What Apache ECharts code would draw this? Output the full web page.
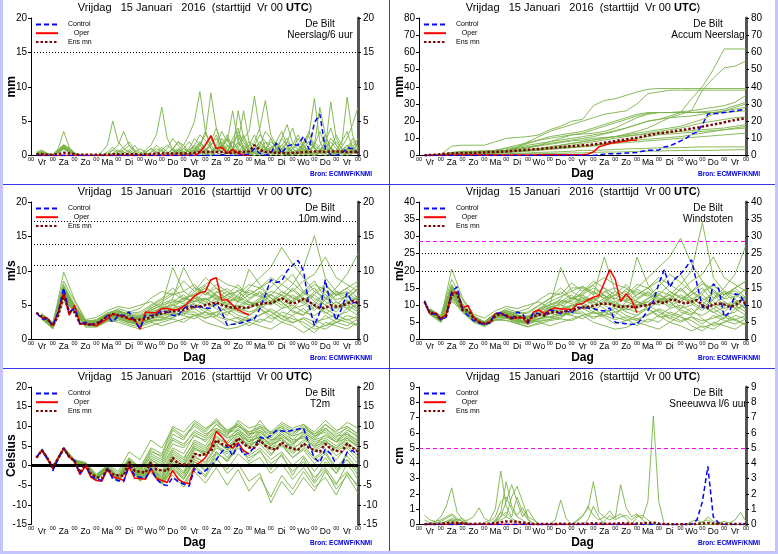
<!DOCTYPE html>
<html>
<head>
<meta charset="utf-8">
<script src="https://cdn.jsdelivr.net/npm/echarts@6/dist/echarts.min.js"></script>
<style>
  html, body { margin: 0; padding: 0; background: #fff; }
  #chart { width: 778px; height: 554px; }
</style>
</head>
<body>
<div id="chart"></div>
<script>
// dagen onder de x-as (label op 12 UTC van elke dag)
const dayLabels = ['Vr', 'Za', 'Zo', 'Ma', 'Di', 'Wo', 'Do', 'Vr', 'Za', 'Zo', 'Ma', 'Di', 'Wo', 'Do', 'Vr'];

// ---- Neerslag / 6 uur (6-uurs waarden vanaf +6h) ----
const p6Control = [0,0,0,0, 0,0,0,0, 0,0,0,0, 0,0,0,0, 0,0,0,0, 0,0,0,0, 0,0,0,0, 0,0,0,0, 0,0,0.1,0, 0,0,0.1,0.2, 1.0,0.3,0,0.3, 1.8,0.3,1.4,1.6, 1.5,2.8,0.9,4.8, 6.0,1.0,0.1,0, 0.3,1.1,1.0,0.4];
const p6Oper = [0,0,0,0, 0,0,0,0, 0,0,0,0, 0,0,0,0, 0,0,0,0, 0,0,0,0, 0,0,0,0, 0,0,0.5,1.5, 2.9,1.0,1.2,0.3, 0.9,0.3,0.1,0];
const p6Mean = [0.2,0.2,0.1,0.1, 0.2,0.4,0.3,0.2, 0.1,0.1,0.1,0.1, 0.1,0.1,0.2,0.2, 0.2,0.2,0.2,0.1, 0.2,0.2,0.3,0.3, 0.3,0.3,0.3,0.3, 0.3,0.4,0.5,0.5, 0.5,0.5,0.5,0.4, 0.4,0.5,0.5,0.6, 1.5,0.8,0.5,0.5, 0.4,0.4,0.3,0.4, 0.4,0.5,0.5,0.6, 0.6,0.5,0.6,0.6, 0.6,0.5,0.5,0.5];
const p6Members = [
  [0.4,0.6,0.3,0.1, 1.0,3.5,1.2,0.2, 0,0,0,0, 0,0,0.3,0.8, 0.5,0.2,0,0, 0,0.4,1.0,0.6, 0.3,0.8,2.0,1.0, 0.5,1.5,3.0,2.2, 1.0,0.5,2.5,1.5, 0.5,1.0,0.3,0, 0.8,2.0,1.2,0.5, 0,0.5,1.0,0.4, 0.2,1.5,2.8,1.0, 0.5,0.3,1.2,2.0, 1.0,0.4,0.8,1.5],
  [0.2,0.3,0.1,0, 0.6,1.4,0.8,0.3, 0,0,0,0, 0.5,1.5,5.0,2.0, 1.0,0.5,0.2,0, 0,0,0.5,1.2, 0.5,0.2,0.8,0.4, 0,0.8,1.5,0.6, 2.0,4.0,1.5,0.8, 0.3,0,0.5,1.5, 3.0,1.2,0.5,0, 0.5,2.5,4.5,1.8, 0.8,0.3,0,0.5, 1.5,3.0,1.0,0.3, 0.5,1.0,2.5,1.2],
  [0.1,0.2,0,0, 0.5,1.2,0.6,0.2, 0,0,0,0, 0,0,0.8,1.5, 3.5,1.5,0.5,0, 0,0,0,0.3, 1.0,2.5,1.5,0.5, 0.2,0.5,1.0,0.4, 0,0.5,1.2,2.5, 1.0,3.5,2.0,0.5, 0.3,0,0.5,1.0, 2.0,0.8,0.3,0, 0.5,1.8,3.5,1.2, 0.4,0,0.3,0.8, 2.0,3.5,1.0,0.5],
  [0.3,0.4,0.2,0, 0.8,1.5,1.0,0.4, 0,0,0,0, 0,0,0,0.5, 1.2,2.0,0.8,0.3, 0.8,1.5,3.0,7.0, 2.5,0.8,0.3,0, 0,0.3,1.5,3.5, 1.5,0.5,0,0.5, 2.5,4.0,1.0,0.3, 0,0.5,0.8,1.2, 0.5,0,0.2,1.0, 2.5,1.0,0.5,0.2, 0.8,2.0,4.0,1.5, 0.5,0.2,0.5,1.0],
  [0.2,0.5,0.2,0, 0.7,1.3,0.9,0.3, 0,0,0,0, 0,0,0,0, 0,0,0,0.2, 0.5,1.0,0.5,0, 0,0.3,0.8,1.5, 3.0,5.0,9.3,3.5, 1.0,0.5,1.5,3.0, 1.0,0.3,0,0.5, 1.5,3.0,2.0,0.8, 0.3,1.0,2.0,1.0, 0.5,0,0.5,1.5, 3.5,1.5,0.5,0.2, 0,0.3,0.8,0.5],
  [0.1,0.3,0.1,0, 0.4,1.0,0.5,0.1, 0,0,0,0, 0,0,0,0, 0,0,0.5,1.0, 0.5,0,0,0, 0.3,1.0,2.0,1.5, 0.5,0.8,1.5,3.0, 9.1,4.0,1.5,0.5, 2.0,3.0,1.0,0.3, 0.5,1.5,3.5,2.5, 0.8,0.3,0.5,1.5, 3.0,1.5,0.3,0, 0.5,1.0,2.5,1.5, 0.5,0,0.3,0.6],
  [0.5,0.8,0.3,0.1, 0.9,1.6,1.1,0.4, 0,0,0,0, 0,0.3,0.8,0.3, 0,0,0,0, 0,0,0.3,0.8, 1.5,0.8,0.3,0, 0,0.5,2.0,1.0, 0.5,1.5,3.5,2.0, 6.5,2.0,0.8,0.3, 0,0.3,1.0,2.0, 1.2,0.5,0,0.3, 0.8,2.0,3.0,8.3, 2.0,0.5,0.3,0, 0.5,1.5,0.8,0.3],
  [0.2,0.4,0.1,0, 0.6,1.2,0.7,0.2, 0,0,0,0, 0,0,0,0, 0,0.5,1.5,0.5, 0,0,0,0, 0,0,0.5,1.0, 2.0,1.0,0.3,0.5, 1.5,3.0,1.0,2.5, 0.5,6.5,2.5,0.8, 0.3,0.5,0,0.5, 1.0,2.5,1.5,0.4, 0,0.3,0.8,1.5, 7.0,3.0,1.0,0.5, 0.3,0.8,2.0,1.0],
  [0.3,0.5,0.2,0, 0.7,1.4,0.8,0.3, 0,0,0,0, 0,0,0,0, 0,0,0,0, 0.3,1.0,0.5,0, 0,0,0.3,0.5, 1.0,2.5,1.5,0.8, 0.3,0,0.5,1.2, 2.0,1.0,2.5,3.5, 8.6,3.5,1.0,0.5, 0.3,0,0.5,1.0, 1.5,0.8,0.3,0, 0.5,1.0,7.8,2.5, 1.0,0.5,0.3,0.8],
  [0.1,0.2,0.1,0, 0.5,1.1,0.6,0.2, 0,0,0,0, 0,0,0,0, 0.3,0.8,0.3,0, 0,0,0,0, 0,0,0,0.3, 0.8,1.5,0.8,0.3, 0,0.5,1.0,0.5, 0.3,1.5,3.0,1.0, 2.0,4.0,8.0,3.0, 1.5,0.5,0.3,0, 0.5,1.2,2.0,1.0, 0.3,0.5,1.0,3.0, 1.5,8.5,3.0,1.0],
  [0.2,0.3,0.1,0, 0.5,1.0,0.6,0.2, 0,0,0,0, 0,0,0,0, 0,0,0,0, 0,0,0,0, 0,0,0,0, 0.3,0.8,0.5,0.2, 0.5,1.2,2.0,0.8, 0.3,0.5,1.5,0.8, 0.5,1.5,1.0,0.5, 2.0,3.5,1.5,0.5, 0.3,0.8,1.2,2.0, 1.0,0.3,0,0.5, 1.2,2.5,4.5,7.0],
  [0.3,0.4,0.2,0, 0.6,1.2,0.7,0.2, 0,0,0,0, 0,0,0,0, 0,0,0,0, 0,0,0,0, 0,0.5,1.0,0.5, 0,0.3,0.8,1.8, 2.5,1.0,0.5,0.3, 1.0,2.0,6.5,2.0, 0.5,0.3,0.8,2.5, 1.0,0.5,2.0,4.0, 1.5,0.5,0.2,0, 0.3,1.0,2.0,1.0, 0.5,0.3,1.0,2.5],
  [0.1,0.2,0,0, 0.4,0.9,0.5,0.1, 0,0,0,0, 0,0,0,0, 0,0,0,0, 0,0,0,0, 0,0,0,0, 0,0,0.3,0.8, 1.5,2.5,1.0,0.5, 0,0.3,0.8,1.5, 1.0,0.5,2.0,1.5, 0.5,1.0,0.5,0.3, 0.8,1.5,0.5,0.3, 0.5,2.0,1.0,0.3, 0.8,1.5,0.5,0.2],
  [0.2,0.3,0.1,0, 0.5,1.1,0.6,0.2, 0,0,0,0, 0,0,0,0, 0,0,0,0, 0,0,0,0, 0,0,0,0, 0,0,0,0.3, 0.5,1.0,0.5,0.2, 0.8,1.8,1.0,0.5, 0.3,1.2,0.8,0.3, 0.5,1.5,0.8,0.2, 0.5,1.0,0.5,1.5, 0.8,0.5,1.2,0.5, 0.3,0.8,1.5,0.5],
  [0.3,0.5,0.2,0, 0.6,1.3,0.7,0.2, 0,0,0,0, 0,0.5,1.2,0.5, 0.8,1.5,0.6,0, 0,0,0,0, 0,0,0.5,1.0, 0.5,1.0,2.0,1.0, 0.5,1.0,1.5,0.5, 1.0,0.5,1.0,2.0, 1.5,0.8,0.3,0.5, 0.8,1.5,2.5,1.0, 0.3,0.5,1.0,0.5, 0.3,1.0,0.5,0.3, 0.5,1.0,0.5,0.8],
  [0.2,0.4,0.1,0, 0.5,1.0,0.5,0.2, 0,0,0,0, 0,0,0,0.3, 0.5,0.2,0,0, 0,0.5,1.5,0.8, 0.3,1.0,0.5,0.2, 0.8,1.2,0.5,0.3, 0,0.5,0.8,1.5, 0.5,0.8,0.3,0.5, 1.0,2.0,1.0,0.5, 0.3,0.8,1.2,0.5, 0.5,1.0,2.0,1.0, 0.5,1.5,0.8,0.3, 0.8,0.5,1.2,0.6]
];

// ---- Accumulatie neerslag (control/oper/mean 6-uurs, leden 12-uurs) ----
const acControl = [0,0,0,0, 0,0,0,0, 0,0,0,0, 0,0,0,0, 0,0,0,0, 0,0,0,0, 0,0,0,0, 0,0,0,0, 0.5,0.8,1.0,1.0, 1.2,1.4,1.6,1.8, 2.5,3.0,3.0,3.2, 5.0,5.5,7.0,8.5, 10.0,12.5,13.5,18.0, 24.0,24.5,24.5,25.0, 25.5,26.0,26.5,27.0];
const acOper = [0,0.1,0.1,0.1, 0.2,0.3,0.3,0.3, 0.3,0.3,0.3,0.3, 0.3,0.3,0.3,0.3, 0.3,0.3,0.3,0.3, 0.3,0.4,0.4,0.4, 0.4,0.4,0.4,0.4, 0.5,0.5,0.8,2.0, 5.0,6.0,7.0,7.5, 8.0,8.5,8.8,9.0];
const acMean = [0.1,0.3,0.5,0.8, 1.0,1.2,1.3,1.4, 1.5,1.6,1.7,1.8, 2.0,2.1,2.2,2.4, 2.6,2.8,3.1,3.4, 3.6,3.8,4.1,4.4, 4.6,4.9,5.1,5.4, 5.6,5.9,6.1,6.4, 6.9,7.4,7.9,8.4, 8.9,9.4,9.9,10.4, 11.0,11.7,12.3,12.9, 13.3,13.7,14.2,14.7, 15.2,15.7,16.2,16.8, 17.4,18.0,18.6,19.3, 20.0,20.6,21.2,21.8];
const acMembers = [
  [0.3,0.5,5.5,6.0,6.0,6.0,8.0,10.0,10.5,11.0,  12.0,15.0,17.0,20.0,21.0,29.0,32.0,33.0,35.0,37.0,  38.5,39,39,39,39,39,39,39,39,39],
  [0.2,0.4,1.5,2.0,2.0,2.2,2.5,3.0,4.0,5.0,  6,7,8,9,10,11,12.5,14,16,18,  20,21,23,25,33,40,50,62,62,62],
  [0.2,0.3,1.2,1.5,1.5,1.8,2.0,2.5,3.0,3.5,  4,5,6,7,8,9,10,11,12.5,14,  16,19,22,24,26,38,45,51,52,55],
  [0.1,0.3,1.0,1.5,1.5,1.5,2.0,3.0,5.0,8.0,  11,14,16,18,20,22,24,25,26,30,  36,37,38,38,38,38,38,38,38,38],
  [0.2,0.4,1.5,2.0,2.0,2.0,2.5,3.0,4.0,5.0,  6,8,10,12,13,15,17,19,21,23,  24.5,25,25,25,25,25,25,25,25.5,26],
  [0.1,0.2,0.8,1.0,1.0,1.2,1.5,2.0,2.5,3.0,  4,5,6,7,8,9,10,11,12,13,  14,15,16,17,19,21,24,26,28,30],
  [0.3,0.5,1.8,2.5,2.5,2.8,3.0,4.0,5.0,7.0,  9,11,12,13,14,16,18,20,22,24,  25,25,25,25.5,26,27,28,29,31,35],
  [0.1,0.2,0.6,0.8,0.8,0.8,1.0,1.0,1.2,1.5,  1.8,2.0,2.2,2.5,3.0,3.0,3.2,3.5,3.8,4.0,  4.2,4.5,4.5,4.6,4.8,5,5,5,5,5],
  [0.1,0.1,0.5,0.6,0.6,0.6,0.7,0.8,0.8,1.0,  1.0,1.2,1.3,1.5,1.5,1.8,2.0,2.0,2.2,2.4,  2.5,2.6,2.8,2.9,3.0,3.0,3.0,3.2,3.3,3.4],
  [0.2,0.3,1.2,1.6,1.6,1.8,2.2,2.8,3.5,4.5,  5.5,6.5,7.5,8.5,9.0,10.0,10.5,11.0,11.5,12.0,  12.5,13.0,13.5,14.0,14.5,15.0,15.5,16.0,17.0,18.0],
  [0.2,0.4,1.4,1.8,1.8,2.0,2.4,3.0,4.5,6.0,  7,8,9,10,11,12,13,14.5,16,18,  20,21,22,22.5,23,24,25,26,27,28],
  [0.1,0.3,1.0,1.3,1.3,1.4,1.6,2.0,2.4,2.8,  3.2,3.8,4.5,5.0,5.5,6.0,6.5,7.0,7.5,8.0,  8.5,9.0,9.5,10.0,10.5,11.0,11.5,12.0,12.5,13.0],
  [0.2,0.4,1.6,2.2,2.2,2.5,3.0,4.5,6.0,7.5,  9,10,11,12,12.5,13,14,16,19,22,  24,25,25,25,25,25.5,26,27,29,31],
  [0.1,0.2,0.9,1.2,1.2,1.3,1.5,1.8,2.0,2.5,  3.0,3.5,4.0,4.5,5.0,5.5,6.5,7.5,8.5,9.0,  9.5,10,10.5,11,12,13,14,15,16,17],
  [0.2,0.3,1.1,1.4,1.4,1.6,1.8,2.2,2.6,3.0,  3.5,4.2,5,6,7,8,9,10,11,12,  13,14,15,16,17.5,19,20,21,22,22.5],
  [0.1,0.3,1.0,1.2,1.2,1.3,1.6,2.0,2.5,3.0,  3.5,4.0,4.5,5.0,5.5,6.0,7,8,9,10,  11,12,12.5,13,13.5,14,14.5,15,15.5,16]
];

// ---- 10m wind ----
const wiControl = [3.9,3.0,3.0,2.0, 4.0,7.5,4.0,4.5, 2.2,2.5,2.2,2.3, 2.7,3.5,2.5,3.5, 3.5,4.0,2.7,1.6, 3.5,3.5,3.6,4.2, 4.0,3.5,3.5,4.5, 5.0,4.7,4.8,4.6, 4.5,5.2,4.0,2.1, 2.2,2.3,2.5,2.8, 3.0,4.5,6.5,8.7, 8.3,8.5,10.0,10.8, 11.5,10.0,5.0,2.0, 4.0,8.7,5.0,2.8, 4.5,6.8,5.3,5.5];
const wiOper = [3.8,3.2,3.1,2.0, 4.0,6.8,3.5,5.0, 2.2,2.3,2.2,2.0, 2.5,3.0,3.7,3.5, 3.5,2.9,2.9,1.5, 4.0,3.9,3.9,4.5, 4.5,4.3,4.4,4.8, 5.5,6.3,6.8,7.0, 8.7,9.0,5.7,5.8, 5.0,4.3,3.9,3.6];
const wiMean = [3.9,3.3,3.0,2.0, 3.5,6.5,4.0,4.0, 2.3,2.3,2.1,2.3, 2.8,3.4,3.7,3.5, 3.3,3.1,2.8,2.9, 3.0,3.2,3.6,3.8, 4.0,4.1,4.2,4.3, 4.6,4.8,4.8,5.0, 5.2,5.4,5.0,4.8, 4.6,4.7,4.6,4.7, 5.0,5.2,5.3,5.3, 5.6,6.0,5.5,5.2, 5.5,5.9,5.5,5.0, 4.6,4.6,5.0,4.8, 4.9,5.2,5.6,5.3];
const wiMembers = [
  [3.5,2.2,7.5,4.8,2.5,2.8,3.8,4.2,3.5,3.0,  4.5,5.5,6.5,7.0,8.0,6.5,7.5,5.5,6.0,7.5,  9.0,10.5,13.4,11.0,9.0,7.0,6.0,5.0,6.5,8.0],
  [3.0,1.8,6.5,4.0,2.0,2.0,3.0,3.0,2.5,2.0,  2.8,3.0,3.5,4.0,4.5,3.5,4.0,3.0,2.5,3.5,  4.5,3.0,3.5,2.5,3.0,2.0,3.5,2.5,2.0,3.0],
  [3.8,2.5,8.5,5.5,2.8,2.5,3.5,4.5,4.0,4.5,  6.0,7.0,6.5,8.5,7.0,9.0,7.5,6.5,8.0,6.0,  7.0,5.5,6.5,8.0,10.5,15.1,9.0,7.0,6.5,5.5],
  [3.2,1.5,5.5,4.2,2.2,2.0,2.8,2.5,2.0,1.5,  2.0,2.5,3.0,2.5,3.5,4.0,3.0,2.0,2.5,3.0,  3.5,4.5,3.5,3.0,2.5,1.5,2.0,3.0,2.5,2.0],
  [3.6,2.0,7.0,4.5,2.4,2.5,3.5,3.8,3.0,3.5,  4.0,3.5,5.0,4.5,6.0,5.5,7.0,6.0,5.5,5.0,  6.0,7.0,6.5,5.5,7.0,6.0,5.0,6.5,7.5,6.0],
  [3.3,2.2,7.8,4.6,2.3,2.4,3.3,3.6,3.4,2.8,  3.5,4.0,4.5,5.0,4.5,6.0,5.0,4.0,4.5,5.5,  4.5,3.5,4.5,5.0,4.0,3.5,4.5,5.5,4.5,5.0],
  [3.1,1.9,6.8,4.3,2.1,2.1,3.1,3.3,2.8,2.2,  3.2,4.2,5.5,6.5,5.0,4.0,5.5,6.5,7.0,5.5,  5.0,6.5,8.0,9.5,7.0,8.5,6.0,7.5,9.5,12.5],
  [3.4,2.1,7.2,4.7,2.5,2.6,3.4,3.7,3.2,3.2,  3.8,4.5,4.0,3.5,5.0,4.5,3.5,5.0,4.0,3.5,  5.0,4.0,3.0,4.5,6.0,5.0,4.0,3.0,4.5,3.5],
  [3.7,2.4,8.0,5.0,2.7,2.7,3.7,4.0,3.8,4.0,  5.0,6.0,7.5,6.0,5.5,7.0,6.0,5.0,6.5,8.0,  7.5,9.0,8.0,7.0,8.5,9.5,12.0,9.0,8.0,7.0],
  [2.9,1.6,6.2,3.8,1.8,1.8,2.6,2.8,2.2,1.8,  2.5,2.0,2.5,3.0,3.5,2.5,2.0,1.5,1.8,2.5,  2.0,1.5,2.5,2.0,1.0,2.0,1.5,2.5,3.0,2.0],
  [3.5,2.3,7.3,4.9,2.6,2.9,3.9,4.3,3.6,3.3,  4.3,5.0,10.5,7.0,6.0,5.0,6.0,7.0,5.5,6.5,  7.5,6.0,5.0,6.5,5.5,4.5,6.0,7.0,6.0,7.5],
  [3.2,1.7,6.0,4.1,2.2,2.2,3.2,3.4,2.9,2.5,  3.0,3.3,4.0,4.5,6.5,5.5,4.5,3.5,5.5,10.2,  8.0,6.0,5.5,4.0,3.5,5.5,4.5,3.5,4.0,5.5],
  [3.6,2.0,9.8,5.8,2.9,3.2,4.2,4.8,4.5,5.0,  5.5,4.5,6.0,10.5,7.5,6.5,8.0,7.0,6.0,5.0,  5.5,5.0,6.0,5.5,6.5,7.5,5.5,4.5,5.0,4.0],
  [3.0,1.8,6.5,4.0,2.0,2.3,3.3,3.5,3.0,2.6,  3.0,3.8,3.5,4.0,4.0,3.0,4.0,4.5,3.5,3.0,  2.5,3.5,2.5,3.5,4.5,3.0,2.0,2.5,3.5,3.0],
  [3.4,2.2,7.0,4.5,2.4,2.5,3.6,3.9,3.3,3.1,  4.2,5.0,5.5,5.5,7.0,8.0,9.0,8.0,7.5,6.5,  7.5,8.5,7.0,6.0,5.5,7.0,8.0,6.5,7.5,8.5],
  [3.3,2.1,7.4,4.6,2.3,2.4,3.4,3.2,2.6,2.4,  3.6,3.2,3.0,5.0,5.5,6.0,5.0,5.5,4.5,4.0,  4.5,5.5,6.5,4.5,5.0,6.5,5.0,4.0,5.5,4.5],
  [3.5,2.4,7.6,4.4,2.6,2.3,3.5,3.4,3.1,2.9,  3.4,4.8,4.5,6.0,6.5,7.5,6.5,4.5,5.0,4.5,  5.5,6.5,5.5,7.5,6.0,5.0,7.0,5.5,4.5,6.5],
  [3.1,1.9,6.6,4.2,2.2,2.0,2.9,3.1,2.4,2.7,  2.6,2.9,3.8,3.5,3.0,4.0,3.5,4.0,3.0,2.0,  3.0,2.5,4.0,3.5,2.0,1.0,2.5,2.0,1.5,2.5],
  [3.4,2.0,7.1,4.4,2.3,2.6,3.6,3.9,3.5,3.4,  4.6,5.2,5.8,5.2,6.2,5.8,6.5,5.2,4.8,5.8,  6.8,5.5,7.0,6.2,5.2,4.2,5.8,6.8,5.5,6.0],
  [3.2,1.9,6.9,4.3,2.2,2.2,3.0,3.3,2.7,2.3,  3.0,3.6,4.2,4.8,5.2,4.4,5.6,4.8,4.2,4.6,  5.8,6.6,5.4,4.2,3.6,4.8,3.8,4.6,5.8,4.2],
  [3.6,2.3,7.7,4.9,2.6,2.7,3.6,4.1,3.7,3.7,  4.8,5.8,6.8,5.8,6.6,7.8,6.2,5.8,7.2,6.8,  6.2,7.6,9.4,8.2,6.8,8.0,7.2,5.8,6.2,7.2],
  [3.0,1.7,6.3,3.9,2.0,1.9,2.7,3.0,2.5,2.1,  2.7,2.8,3.2,3.8,3.6,3.2,3.4,2.8,3.2,2.6,  3.6,4.2,3.0,2.4,3.2,2.6,3.0,3.6,2.8,3.4],
  [3.3,2.1,7.0,4.6,2.4,2.4,3.2,3.6,3.1,2.9,  3.7,4.2,5.2,6.0,5.6,5.2,6.8,7.4,6.2,5.4,  4.8,5.6,4.6,5.8,6.8,5.6,6.6,4.8,5.2,6.2],
  [3.5,2.2,7.4,4.7,2.5,2.5,3.4,3.8,3.2,3.0,  4.0,4.6,5.0,5.6,7.6,6.8,5.8,6.4,5.6,7.2,  6.4,5.2,6.0,7.2,5.8,6.6,7.8,6.4,7.0,5.6]
];

// ---- Windstoten ----
const guControl = [11.3,7.3,7.5,5.7, 6.5,14.0,15.3,8.5, 7.0,5.5,4.8,4.4, 4.8,7.5,7.7,6.7, 6.0,8.0,7.5,4.8, 7.7,7.5,7.0,8.6, 8.2,7.5,8.3,7.7, 9.4,9.2,9.2,9.0, 8.5,8.3,9.2,5.0, 4.8,4.6,4.4,4.5, 6.3,8.4,11.2,16.2, 20.3,15.2,17.7,19.1, 21.0,23.2,16.2,9.4, 8.9,16.2,14.8,6.5, 8.0,13.3,12.8,9.6];
const guOper = [10.8,7.5,7.7,6.0, 7.3,13.5,13.8,9.2, 9.9,6.5,5.0,4.6, 5.0,7.5,7.7,7.0, 6.0,6.3,6.3,4.6, 8.0,8.6,7.5,8.6, 9.2,8.9,8.9,8.6, 10.2,10.4,11.5,12.3, 12.8,16.5,20.3,17.5, 11.0,13.3,11.5,7.8];
const guMean = [11.0,7.8,7.7,5.8, 7.0,13.0,13.5,8.5, 8.5,6.3,5.2,4.6, 5.0,6.8,7.5,7.0, 6.3,6.5,6.5,5.5, 6.8,7.2,7.0,7.8, 8.0,8.0,8.2,8.5, 9.0,9.3,9.5,9.8, 10.3,10.5,10.3,9.8, 9.5,9.7,9.5,9.5, 9.8,10.0,10.5,11.0, 10.5,11.5,11.5,10.8, 10.5,11.0,11.5,10.0, 9.3,10.2,10.5,10.2, 9.5,10.0,11.2,10.5];
const guMembers = [
  [8.5,6.5,15.0,10.0,6.5,5.0,7.5,8.0,7.0,6.5,  9.0,11.0,12.5,14.0,15.5,13.0,15.0,11.0,12.5,15.0,  18.0,21.0,24.0,29.5,22.0,17.0,14.0,12.0,15.0,17.0],
  [7.5,5.5,12.5,8.5,5.5,4.5,6.5,6.5,5.5,4.5,  6.0,6.5,7.0,8.0,9.0,7.5,8.0,6.5,5.5,7.0,  9.0,6.5,7.0,5.5,6.5,4.5,7.0,5.5,4.5,6.0],
  [9.0,7.0,17.5,11.5,7.0,5.0,7.0,9.0,8.0,9.0,  11.5,13.5,13.0,16.5,14.0,17.0,15.0,13.0,16.0,12.0,  14.0,11.5,13.0,16.0,20.0,34.0,18.0,14.0,13.0,11.0],
  [8.0,5.0,11.0,8.8,5.8,4.2,6.0,5.5,4.8,3.8,  4.5,5.5,6.0,5.5,7.0,8.0,6.5,4.5,5.5,6.0,  7.0,9.0,7.5,6.5,5.5,3.5,4.5,6.5,5.5,4.5],
  [8.3,5.8,14.0,9.5,6.2,4.8,7.2,7.5,6.5,6.8,  8.0,7.5,10.0,9.0,12.0,11.0,14.0,12.0,11.0,10.0,  12.0,14.0,13.0,11.0,14.0,12.0,10.0,13.0,15.0,12.0],
  [8.0,6.2,15.5,9.7,6.0,4.7,6.8,7.2,7.0,5.8,  7.2,8.0,9.0,10.0,9.0,12.0,10.0,8.0,9.0,11.0,  9.0,7.0,9.0,10.0,8.0,7.0,9.0,11.0,9.0,10.0],
  [7.8,5.7,13.5,9.0,5.7,4.3,6.6,6.8,6.0,4.8,  6.8,8.5,11.0,13.0,10.0,8.0,11.0,13.0,14.0,11.0,  10.0,13.0,16.0,19.0,14.0,17.0,12.0,15.0,19.0,27.5],
  [8.4,6.1,14.2,9.6,6.3,4.9,7.0,7.4,6.6,6.2,  7.6,9.0,8.0,7.0,10.0,9.0,7.0,10.0,8.0,7.0,  10.0,8.0,6.0,9.0,12.0,10.0,8.0,6.0,9.0,7.0],
  [8.8,6.8,16.0,10.5,6.8,5.2,7.6,8.2,7.6,8.0,  10.0,12.0,15.0,12.0,11.0,14.0,12.0,10.0,13.0,16.0,  15.0,18.0,16.0,14.0,17.0,19.0,24.0,18.0,16.0,14.0],
  [7.2,5.0,11.5,7.8,5.0,3.8,5.6,5.6,4.6,3.6,  5.0,4.0,5.0,6.0,7.0,5.0,4.0,3.0,3.5,5.0,  4.0,3.0,5.0,4.0,2.5,4.0,3.0,5.0,6.0,4.0],
  [8.6,6.4,14.5,9.9,6.4,5.2,7.6,8.4,7.2,6.6,  8.6,10.0,21.0,14.0,12.0,10.0,12.0,14.0,11.0,13.0,  15.0,12.0,10.0,13.0,11.0,9.0,12.0,14.0,12.0,15.0],
  [7.8,5.4,12.0,8.6,5.6,4.4,6.4,6.8,5.8,5.0,  6.0,6.6,8.0,9.0,13.0,11.0,9.0,7.0,11.0,24.0,  16.0,12.0,11.0,8.0,7.0,11.0,9.0,7.0,8.0,11.0],
  [8.6,6.0,20.5,12.0,7.4,6.2,8.4,9.6,9.0,10.0,  11.0,9.0,12.0,15.0,15.0,13.0,24.0,14.0,12.0,10.0,  11.0,10.0,12.0,11.0,13.0,15.0,11.0,9.0,10.0,8.0],
  [7.5,5.6,13.0,8.5,5.6,4.6,6.6,7.0,6.0,5.2,  6.0,7.6,7.0,8.0,8.0,6.0,8.0,9.0,7.0,6.0,  5.0,7.0,5.0,7.0,9.0,6.0,4.0,5.0,7.0,6.0],
  [8.2,6.0,14.0,9.3,6.2,4.8,7.2,7.8,6.6,6.4,  8.4,10.0,11.0,11.0,14.0,16.0,18.0,16.0,15.0,13.0,  15.0,17.0,14.0,12.0,11.0,14.0,16.0,13.0,15.0,17.0],
  [8.1,6.1,14.8,9.4,6.1,4.8,6.8,6.4,5.2,4.8,  7.2,6.4,6.0,10.0,11.0,12.0,10.0,11.0,9.0,8.0,  9.0,11.0,13.0,9.0,10.0,13.0,10.0,8.0,11.0,9.0],
  [8.4,6.4,15.2,9.0,6.6,4.6,7.0,6.8,6.2,5.8,  6.8,9.6,9.0,12.0,13.0,15.0,13.0,9.0,10.0,9.0,  11.0,13.0,11.0,15.0,12.0,10.0,14.0,11.0,9.0,13.0],
  [7.6,5.6,13.2,8.6,5.6,4.0,5.8,6.2,4.8,5.4,  5.2,5.8,7.6,7.0,6.0,8.0,7.0,8.0,6.0,4.0,  6.0,5.0,8.0,7.0,4.0,2.5,5.0,4.0,3.0,5.0],
  [8.2,6.0,14.2,9.0,6.1,5.0,7.2,7.8,7.0,6.8,  9.0,10.2,11.5,10.4,12.4,11.6,13.0,10.4,9.6,11.6,  13.6,11.0,14.0,12.4,10.4,8.4,11.6,13.6,11.0,12.0],
  [7.9,5.8,13.8,8.8,5.9,4.5,6.2,6.8,5.6,4.9,  6.2,7.4,8.6,9.8,10.6,9.0,11.4,9.8,8.6,9.4,  11.8,13.4,11.0,8.6,7.4,9.8,7.8,9.4,11.8,8.6],
  [8.6,6.4,15.6,10.0,6.6,5.2,7.4,8.4,7.6,7.6,  9.8,11.8,13.8,11.8,13.4,15.8,12.6,11.8,14.6,13.8,  12.6,15.4,19.0,16.6,13.8,16.2,14.6,11.8,12.6,14.6],
  [7.4,5.2,12.6,8.0,5.3,4.0,5.6,6.2,5.2,4.4,  5.6,5.8,6.6,7.8,7.4,6.6,7.0,5.8,6.6,5.4,  7.4,8.6,6.2,5.0,6.6,5.4,6.2,7.4,5.8,7.0],
  [8.1,6.0,14.0,9.4,6.2,4.9,6.6,7.4,6.4,6.0,  7.6,8.6,10.6,12.2,11.4,10.6,13.8,15.0,12.6,11.0,  9.8,11.4,9.4,11.8,13.8,11.4,13.4,9.8,10.6,12.6],
  [8.4,6.2,14.8,9.6,6.4,5.0,7.0,7.8,6.6,6.2,  8.2,9.4,10.2,11.4,15.4,13.8,11.8,13.0,11.4,14.6,  13.0,10.6,12.2,14.6,11.8,13.4,15.8,13.0,14.2,11.4]
];

// ---- T2m ----
const tControl = [2.1,4.0,1.9,-1.3, 1.7,4.5,2.1,1.3, -2.0,0.2,-2.7,-3.4, -3.8,-0.7,-3.4,-3.8, -4.1,0.0,-2.5,-3.0, -3.2,-0.7,-3.4,-4.7, -5.1,-3.0,-4.1,-4.7, -5.3,-0.8,-2.1,-1.3, -0.2,1.5,3.5,5.0, 2.4,5.5,2.7,3.2, 4.7,7.2,6.8,7.6, 8.9,8.8,8.7,9.0, 9.3,9.5,5.5,1.9, 0.8,4.2,3.0,0.2, 0.0,3.4,3.8,2.7];
const tOper = [2.0,3.9,1.8,-0.8, 2.0,4.4,2.3,1.0, -2.3,0.0,-3.0,-3.8, -4.0,-1.0,-2.9,-3.2, -3.8,-0.3,-3.2,-3.3, -3.5,-0.8,-3.3,-3.8, -4.3,-1.2,-3.5,-4.3, -4.6,0.0,0.8,2.0, 4.5,8.7,7.3,5.5, 4.4,5.8,3.8,3.0];
const tMean = [2.0,3.9,1.9,-0.4, 1.8,4.3,2.3,1.1, -1.8,0.3,-2.2,-2.9, -3.3,-0.9,-2.2,-2.5, -2.6,1.0,-1.3,-1.6, -1.8,0.8,-1.0,-1.2, -1.4,2.0,0.4,0.3, 0.2,3.0,2.6,3.0, 3.6,6.5,5.5,5.0, 4.9,7.0,5.5,4.6, 4.5,6.5,5.0,4.4, 4.0,6.0,4.8,4.3, 4.0,5.6,4.5,3.9, 3.5,5.5,4.3,3.8, 3.5,5.6,4.5,3.6];
const tMembers = [
  [4.2,-0.3,4.5,1.2,0.5,-2.8,-0.5,-2.5,1.2,-1.5,  2.5,1.0,6.5,5.0,9.0,7.5,10.5,8.0,11.0,8.5,  10.0,7.0,9.5,8.0,10.5,7.5,9.0,6.5,8.5,6.0],
  [3.8,-0.8,4.0,0.8,-0.3,-3.2,-1.0,-3.5,0.2,-2.8,  -0.5,-3.0,1.0,-1.5,4.0,3.5,7.5,5.5,8.5,4.5,  7.0,3.0,5.5,2.0,4.5,1.5,3.5,-0.5,2.5,-1.0],
  [4.0,-0.5,4.3,1.0,0.2,-3.5,-0.8,-4.0,-0.5,-3.8,  -1.5,-4.5,-2.5,-5.5,-1.5,-4.5,-0.5,-5.0,-1.0,-6.5,  -3.0,-8.0,-2.5,-6.0,-1.5,-5.5,-3.0,-7.5,-2.0,-5.0],
  [4.1,-0.2,4.6,1.4,0.6,-2.5,-0.2,-2.8,1.5,-1.0,  3.0,1.5,8.0,6.5,11.0,9.0,12.0,8.5,10.5,7.5,  11.5,8.0,10.0,6.5,9.0,7.0,10.5,8.5,11.0,9.5],
  [3.9,-0.6,4.2,0.9,-0.2,-3.0,-1.2,-3.8,-0.2,-3.5,  -1.0,-4.2,0.5,-2.0,3.0,2.5,6.0,4.5,8.0,6.0,  9.0,6.5,8.0,5.5,7.5,4.5,6.5,3.5,5.5,4.0],
  [4.0,-0.4,4.4,1.1,0.3,-3.3,-0.6,-3.2,0.6,-2.2,  0.5,-2.5,2.5,0.5,5.5,4.0,8.5,6.0,9.5,7.0,  8.0,5.0,7.0,4.5,6.0,3.5,5.5,2.5,4.5,1.5],
  [3.7,-0.9,4.1,0.7,-0.5,-3.6,-1.3,-4.2,-0.8,-4.0,  -1.8,-4.8,-1.0,-3.5,1.0,-1.0,2.0,-2.0,0.5,-4.0,  -2.0,-9.5,-4.0,-7.5,-3.0,-6.5,-1.5,-5.0,0.5,-3.5],
  [4.3,-0.1,4.7,1.5,0.8,-2.2,0.0,-2.0,2.0,-0.5,  4.5,3.0,10.0,8.5,11.5,9.5,11.0,9.0,10.0,8.5,  9.5,8.0,10.5,9.0,9.5,7.5,8.5,6.0,9.0,7.5],
  [3.9,-0.7,4.2,0.9,0.0,-3.1,-0.9,-3.6,0.0,-3.2,  -0.8,-3.8,0.0,-2.5,2.0,1.0,5.0,3.5,7.0,5.0,  6.5,4.0,7.5,5.5,8.0,6.0,7.0,5.0,7.5,5.5],
  [4.1,-0.5,4.4,1.2,0.4,-2.9,-0.4,-3.0,0.8,-2.0,  1.0,-1.5,3.5,1.5,6.5,5.0,9.0,7.0,8.0,6.0,  7.5,5.5,6.5,5.0,8.5,6.5,9.5,7.5,8.0,5.5],
  [3.8,-0.8,4.0,0.6,-0.4,-3.4,-1.1,-3.9,-0.3,-3.6,  -1.2,-4.4,-0.5,-3.0,1.5,0.0,3.5,1.0,4.5,2.0,  3.5,0.5,2.5,-1.5,1.0,-3.0,-0.5,-4.5,-1.5,-5.5],
  [4.0,-0.3,4.5,1.3,0.5,-2.7,-0.3,-2.6,1.3,-1.3,  2.0,0.5,5.5,4.5,7.5,6.5,9.5,8.0,10.0,8.0,  8.5,6.0,9.0,7.5,10.0,8.0,9.5,7.0,10.0,8.0],
  [4.2,-0.4,4.4,1.1,0.1,-3.2,-0.7,-3.4,0.4,-2.6,  0.0,-2.8,2.0,0.0,4.5,2.5,5.5,2.0,6.0,1.0,  4.0,-1.0,3.0,-2.5,2.0,-4.0,1.0,-2.0,3.5,0.5],
  [3.9,-0.6,4.3,1.0,0.2,-3.0,-0.8,-3.3,0.3,-2.9,  -0.3,-3.4,1.5,-0.5,4.5,3.0,6.5,4.0,7.5,5.0,  8.5,6.5,7.0,4.0,6.5,5.0,8.0,6.0,7.0,4.5],
  [4.0,-0.5,4.3,1.0,0.3,-3.1,-0.6,-3.5,0.5,-2.4,  1.5,0.0,4.5,3.0,8.0,6.0,9.0,7.5,11.5,9.5,  10.5,8.5,11.0,9.5,10.5,8.5,11.5,9.0,10.0,8.0],
  [3.8,-0.7,4.1,0.8,-0.1,-3.3,-1.0,-3.7,-0.4,-3.4,  -1.0,-4.0,-1.5,-4.5,0.0,-2.5,3.0,1.5,5.0,3.0,  6.0,4.0,5.0,2.0,4.0,0.5,3.0,-1.0,1.5,-2.5],
  [4.1,-0.2,4.6,1.3,0.4,-2.9,-0.5,-3.1,0.9,-1.8,  3.5,2.5,9.0,7.0,10.0,8.0,9.5,7.0,9.0,6.0,  7.5,5.5,8.5,6.5,7.0,5.0,6.0,4.5,6.5,5.0],
  [3.9,-0.6,4.2,0.9,0.1,-3.2,-0.9,-3.7,-0.1,-3.3,  -0.8,-3.9,0.5,-2.0,2.5,0.5,4.5,3.0,6.5,4.5,  5.5,2.5,6.0,3.5,5.0,2.0,4.0,1.5,5.0,2.5],
  [4.1,-0.3,4.5,1.3,0.7,-2.6,0.3,-1.5,3.5,1.5,  6.5,4.5,9.5,7.5,10.5,8.5,11.5,9.0,10.5,8.0,  9.0,7.5,10.0,8.5,9.5,8.0,10.5,8.0,9.5,7.0],
  [3.9,-0.6,4.2,0.9,0.0,-3.3,-0.9,-3.6,0.2,-3.0,  -0.5,-3.5,-0.5,-3.5,1.0,-1.5,3.5,1.0,5.5,2.5,  4.5,1.5,3.5,0.0,2.5,-1.5,2.0,-2.0,1.5,-1.5],
  [4.0,-0.4,4.4,1.2,0.5,-2.8,-0.2,-2.8,1.8,-0.8,  4.0,2.0,7.0,5.5,8.5,7.0,10.5,8.5,9.0,7.0,  10.0,8.5,9.0,7.5,8.5,6.5,7.5,6.0,8.0,6.5],
  [3.8,-0.7,4.1,0.8,-0.2,-3.4,-1.1,-3.9,-0.5,-3.7,  -1.2,-4.5,-1.5,-5.0,-0.5,-3.0,1.5,-1.0,3.0,0.5,  2.0,-2.0,0.5,-3.5,-0.5,-4.5,-1.0,-6.0,-2.5,-7.0],
  [4.1,-0.3,4.5,1.2,0.4,-3.0,-0.5,-3.1,0.8,-2.1,  1.5,-0.5,4.0,2.0,6.0,4.5,7.0,5.5,8.5,6.5,  7.0,5.0,8.0,6.0,7.5,5.5,6.5,4.0,6.0,3.5],
  [4.0,-0.5,4.3,1.0,0.2,-3.1,-0.7,-3.4,0.4,-2.7,  0.5,-2.0,3.0,1.0,5.0,3.5,6.0,4.0,7.0,5.5,  6.5,4.5,5.5,3.0,5.5,4.0,6.0,4.5,7.0,5.0]
];

// ---- Sneeuwval / 6 uur ----
const snControl = [0,0,0,0, 0,0,0,0, 0,0,0,0, 0,0,0,0, 0,0,0,0, 0,0,0,0, 0,0,0,0, 0,0,0,0, 0,0,0,0, 0,0,0,0, 0,0,0,0, 0,0,0,0, 0,0,0.3,1.5, 3.8,0.5,0.1,0, 0,0,0,0];
const snOper = [0,0,0,0, 0,0,0,0.1, 0,0,0,0, 0,0,0,0, 0,0,0,0, 0,0,0,0, 0,0,0,0, 0,0,0,0, 0,0,0,0, 0,0,0,0];
const snMean = [0.02,0.03,0.03,0.05, 0.08,0.12,0.1,0.06, 0.04,0.04,0.05,0.05, 0.05,0.08,0.15,0.2, 0.2,0.18,0.12,0.08, 0.04,0.03,0.03,0.03, 0.03,0.05,0.04,0.03, 0.04,0.05,0.06,0.08, 0.06,0.05,0.05,0.06, 0.08,0.07,0.05,0.06, 0.06,0.1,0.12,0.06, 0.03,0.02,0.02,0.02, 0.02,0.03,0.04,0.06, 0.1,0.06,0.04,0.03, 0.03,0.03,0.04,0.03];
const snMembers = [
  [0.6,0.3,0.2,0.5, 1.2,2.4,0.8,0.3, 0,0,0,0, 0,0.3,0.8,0.5, 0.3,0,0,0, 0,0,0,0, 0,0,0,0, 0,0,0,0, 0,0,0,0, 0,0,0,0, 0,0,0,0, 0,0,0,0, 0,0,0,0, 0,0,0,0, 0,0,0,0],
  [0,0.1,0.2,0.3, 0.5,0.7,0.4,0.2, 0.3,0.5,1.1,0.4, 0.2,0.5,1.5,1.8, 1.0,0.5,0.3,0, 0,0,0,0, 0,0,0,0, 0,0,0,0, 0,0,0,0, 0,0,0,0, 0,0,0,0, 0,0,0,0, 0,0,0,0.2, 0.3,0.1,0,0, 0,0,0,0],
  [0,0,0.1,0.2, 0.4,0.6,0.3,0.4, 0.1,0,0,0.1, 0.3,1.0,3.5,1.2, 0.5,1.8,0.8,0.3, 0,0,0,0, 0,0,0,0, 0,0,0,0, 0,0,0,0, 0,0,0,0, 0,0,0,0, 0,0,0,0, 0,0,0,0, 0,0,0,0, 0,0,0,0],
  [0,0,0,0.1, 0.2,0.4,0.3,0.2, 0,0,0,0, 0,0.2,0.8,2.8, 1.2,0.6,1.1,0.4, 0,0,0,0, 0,0,0,0, 0,0,0.3,1.2, 0.5,0,0,0, 0,0,0,0, 0,0,0,0, 0,0,0,0, 0,0,0,0, 0,0,0,0, 0,0,0,0],
  [0,0,0,0, 0.1,0.3,0.2,0, 0,0,0,0, 0,0,0.5,1.5, 2.6,1.5,0.5,1.0, 0.4,0,0,0, 0,0,0,0, 0,0,0,0, 0,0,0,0, 0,0,0,0, 0,0,0,0, 0,0,0,0, 0,0,0,0, 0,0,0,0, 0,0,0,0],
  [0,0,0,0, 0,0.2,0.1,0, 0,0,0,0, 0,0,0.3,0.5, 1.8,2.5,1.5,0.5, 0.3,0,0,0, 0.3,1.6,0.4,0, 0,0,0,0, 0,0,0,0, 0,0,0,0, 0,0,0,0, 0,0,0,0, 0,0,0,0, 0,0,0,0, 0,0,0,0],
  [0,0,0,0, 0,0.1,0,0, 0,0,0,0, 0,0,0,0, 0,0,0,0, 0,0,0,0, 0,0,0,0, 0.3,0.6,1.0,2.8, 0.8,0.5,0.3,0.5, 0.7,0.4,0,0, 0,0,0,0, 0,0,0,0, 0,0,0,0, 0,0,0,0, 0,0,0,0],
  [0,0,0,0, 0,0,0,0, 0,0,0,0, 0,0,0,0, 0,0,0,0, 0,0,0,0, 0,0,0,0, 0.2,0.5,1.2,0.6, 0.3,0.5,0.9,0.4, 2.6,1.1,0.5,0.7, 0.3,0,0,0, 0,0,0,0, 0,0,0,0, 0,0,0,0, 0,0,0,0],
  [0,0,0,0, 0,0,0,0, 0,0,0,0, 0,0,0,0, 0,0,0,0, 0,0,0,0, 0,0,0,0, 0,0,0,0, 0,0.2,0.6,0.3, 0.5,0.6,0.3,0.6, 0.4,1.5,7.1,1.5, 0,0,0,0, 0,0,0,0, 0,0,0,0, 0,0,0,0],
  [0.3,0.1,0,0, 0.2,0.3,0.2,0, 0,0,0,0, 0,0.2,0.5,0.8, 0.4,0.2,0,0, 0,0,0,0, 0,0,0,0, 0,0,0,0, 0,0,0,0, 0,0,0,0.5, 0.6,0.3,0,0, 0,0,0,0, 0,0.2,0.3,0.1, 0.5,0.2,0.1,0.2, 0.1,0.3,0.8,0.2]
];

// ---- opmaak ----
const FONT = '"Liberation Sans", Arial, Helvetica, sans-serif';
const GREEN = '#7ab247';
const dotted = { color: '#000', width: 1, type: [1, 2] };
const magenta = { color: '#ff00ff', width: 1.2, type: [4, 3] };

const panels = [
  { ox: 0,   oy: 0,   min: 0,   max: 20, step: 5,  unit: 'mm',      sub: 'Neerslag/6 uur', members: p6Members, mStart: 6,  mStep: 6,  control: p6Control, oper: p6Oper, mean: p6Mean, marks: [{ y: 15, s: dotted }] },
  { ox: 388, oy: 0,   min: 0,   max: 80, step: 10, unit: 'mm',      sub: 'Accum Neerslag', members: acMembers, mStart: 12, mStep: 12, control: acControl, oper: acOper, mean: acMean, marks: [] },
  { ox: 0,   oy: 184, min: 0,   max: 20, step: 5,  unit: 'm/s',     sub: '10m wind',       members: wiMembers, mStart: 12, mStep: 12, control: wiControl, oper: wiOper, mean: wiMean, marks: [{ y: 10.8, s: dotted }, { y: 13.9, s: dotted }, { y: 17.2, s: dotted }] },
  { ox: 388, oy: 184, min: 0,   max: 40, step: 5,  unit: 'm/s',     sub: 'Windstoten',     members: guMembers, mStart: 12, mStep: 12, control: guControl, oper: guOper, mean: guMean, marks: [{ y: 20, s: dotted }, { y: 25, s: dotted }, { y: 28.5, s: magenta }] },
  { ox: 0,   oy: 369, min: -15, max: 20, step: 5,  unit: 'Celsius', sub: 'T2m',            members: tMembers,  mStart: 12, mStep: 12, control: tControl,  oper: tOper,  mean: tMean,  marks: [{ y: 0, s: { color: '#000', width: 3, type: 'solid' } }] },
  { ox: 388, oy: 369, min: 0,   max: 9,  step: 1,  unit: 'cm',      sub: 'Sneeuwva l/6 uur', members: snMembers, mStart: 6, mStep: 6, control: snControl, oper: snOper, mean: snMean, marks: [{ y: 5, s: magenta }] }
];

function pairs(vals, start, step) {
  return vals.map((v, i) => [start + i * step, v]);
}

const grids = [], xAxes = [], yAxes = [], series = [], legends = [], graphics = [];

panels.forEach((p, k) => {
  grids.push({ left: p.ox + 31, top: p.oy + 18, width: 327, height: 137.5, outerBoundsMode: 'none' });

  xAxes.push({
    type: 'value', gridIndex: k, min: 0, max: 360, interval: 12,
    name: 'Dag', nameLocation: 'middle', nameGap: 11,
    nameTextStyle: { fontFamily: FONT, fontSize: 12, fontWeight: 'bold', color: '#000' },
    axisLine: { lineStyle: { color: '#000', width: 1 } },
    axisTick: { show: false },
    splitLine: { show: false },
    axisLabel: {
      margin: 1, showMinLabel: true, showMaxLabel: true,
      formatter: v => (v % 24 === 0 ? '{z|00}' : '{d|' + dayLabels[(v - 12) / 24] + '}'),
      rich: {
        z: { fontFamily: FONT, fontSize: 5.5, lineHeight: 6, color: '#000' },
        d: { fontFamily: FONT, fontSize: 8.5, lineHeight: 9, color: '#000', padding: [3, 0, 0, 0] }
      }
    }
  });

  const yBase = {
    type: 'value', gridIndex: k, min: p.min, max: p.max, interval: p.step,
    splitLine: { show: false },
    axisTick: { show: true, length: 3, lineStyle: { color: '#000' } },
    axisLabel: { fontFamily: FONT, fontSize: 10, color: '#000' }
  };
  yAxes.push(Object.assign({}, yBase, {
    position: 'left',
    name: p.unit, nameLocation: 'middle', nameGap: 13, nameMoveOverlap: false,
    nameTextStyle: { fontFamily: FONT, fontSize: 12, fontWeight: 'bold', color: '#000' },
    axisLine: { show: true, lineStyle: { color: '#000', width: 1 } },
    axisLabel: Object.assign({}, yBase.axisLabel, { margin: 4 })
  }));
  yAxes.push(Object.assign({}, yBase, {
    position: 'right',
    axisLine: { show: true, lineStyle: { color: '#555', width: 3 } },
    axisLabel: Object.assign({}, yBase.axisLabel, { margin: 5 })
  }));

  // ensemble leden
  p.members.forEach(m => {
    series.push({
      type: 'line', xAxisIndex: k, yAxisIndex: 2 * k, data: pairs(m, p.mStart, p.mStep),
      symbol: 'none', silent: true, z: 2,
      lineStyle: { color: GREEN, width: 0.9 }
    });
  });

  series.push({
    name: 'Oper', type: 'line', xAxisIndex: k, yAxisIndex: 2 * k, data: pairs(p.oper, 6, 6),
    symbol: 'none', z: 3,
    itemStyle: { color: '#ff0000' }, lineStyle: { color: '#ff0000', width: 1.5 },
    markLine: {
      silent: true, symbol: ['none', 'none'], label: { show: false },
      data: p.marks.map(m => ({ yAxis: m.y, lineStyle: m.s }))
    }
  });
  series.push({
    name: 'Control', type: 'line', xAxisIndex: k, yAxisIndex: 2 * k, data: pairs(p.control, 6, 6),
    symbol: 'none', z: 4,
    itemStyle: { color: '#0000ff' }, lineStyle: { color: '#0000ff', width: 1.5, type: [5, 3] }
  });
  series.push({
    name: 'Ens mn', type: 'line', xAxisIndex: k, yAxisIndex: 2 * k, data: pairs(p.mean, 6, 6),
    symbol: 'none', z: 5,
    itemStyle: { color: '#7a0606' }, lineStyle: { color: '#7a0606', width: 2.5, type: [2.5, 2] }
  });

  legends.push({
    data: ['Control', 'Oper', 'Ens mn'], orient: 'vertical',
    left: p.ox + 35, top: p.oy + 21, padding: 0,
    itemWidth: 22, itemHeight: 5, itemGap: 1.7, selectedMode: false,
    itemStyle: { opacity: 0 },
    formatter: n => (n === 'Oper' ? '   Oper' : n),
    textStyle: { fontFamily: FONT, fontSize: 7, color: '#000', padding: [0, 0, 0, 5] }
  });

  graphics.push(
    { type: 'text', x: p.ox + 195, y: p.oy + 8, style: {
      text: 'Vrijdag   15 Januari   2016  (starttijd  Vr 00 {b|UTC})',
      font: '11px ' + FONT, fill: '#000', align: 'center', verticalAlign: 'middle',
      rich: { b: { font: 'bold 11px ' + FONT, fill: '#000' } } } },
    { type: 'text', x: p.ox + 320, y: p.oy + 24, style: { text: 'De Bilt', font: '10px ' + FONT, fill: '#000', align: 'center', verticalAlign: 'middle' } },
    { type: 'text', x: p.ox + 320, y: p.oy + 35, style: { text: p.sub, font: '10px ' + FONT, fill: '#000', align: 'center', verticalAlign: 'middle' } },
    { type: 'text', x: p.ox + 341, y: p.oy + 174, style: { text: 'Bron: ECMWF/KNMI', font: 'bold 6.5px ' + FONT, fill: '#0000dd', align: 'center', verticalAlign: 'middle' } }
  );
});

// kaders
graphics.push(
  { type: 'line', shape: { x1: 1.5, y1: 0, x2: 1.5, y2: 554 }, style: { stroke: '#c4c4ff', lineWidth: 3 } },
  { type: 'line', shape: { x1: 776.5, y1: 0, x2: 776.5, y2: 554 }, style: { stroke: '#c4c4ff', lineWidth: 3 } },
  { type: 'line', shape: { x1: 0, y1: 552.5, x2: 778, y2: 552.5 }, style: { stroke: '#c4c4ff', lineWidth: 3 } },
  { type: 'line', shape: { x1: 389.5, y1: 0, x2: 389.5, y2: 551 }, style: { stroke: '#3535e8', lineWidth: 1 } },
  { type: 'line', shape: { x1: 3, y1: 184.5, x2: 775, y2: 184.5 }, style: { stroke: '#3535e8', lineWidth: 1 } },
  { type: 'line', shape: { x1: 3, y1: 368.5, x2: 775, y2: 368.5 }, style: { stroke: '#3535e8', lineWidth: 1 } }
);

const chart = echarts.init(document.getElementById('chart'));
chart.setOption({
  animation: false,
  backgroundColor: '#fff',
  grid: grids,
  xAxis: xAxes,
  yAxis: yAxes,
  legend: legends,
  graphic: graphics,
  series: series
});
</script>
</body>
</html>
